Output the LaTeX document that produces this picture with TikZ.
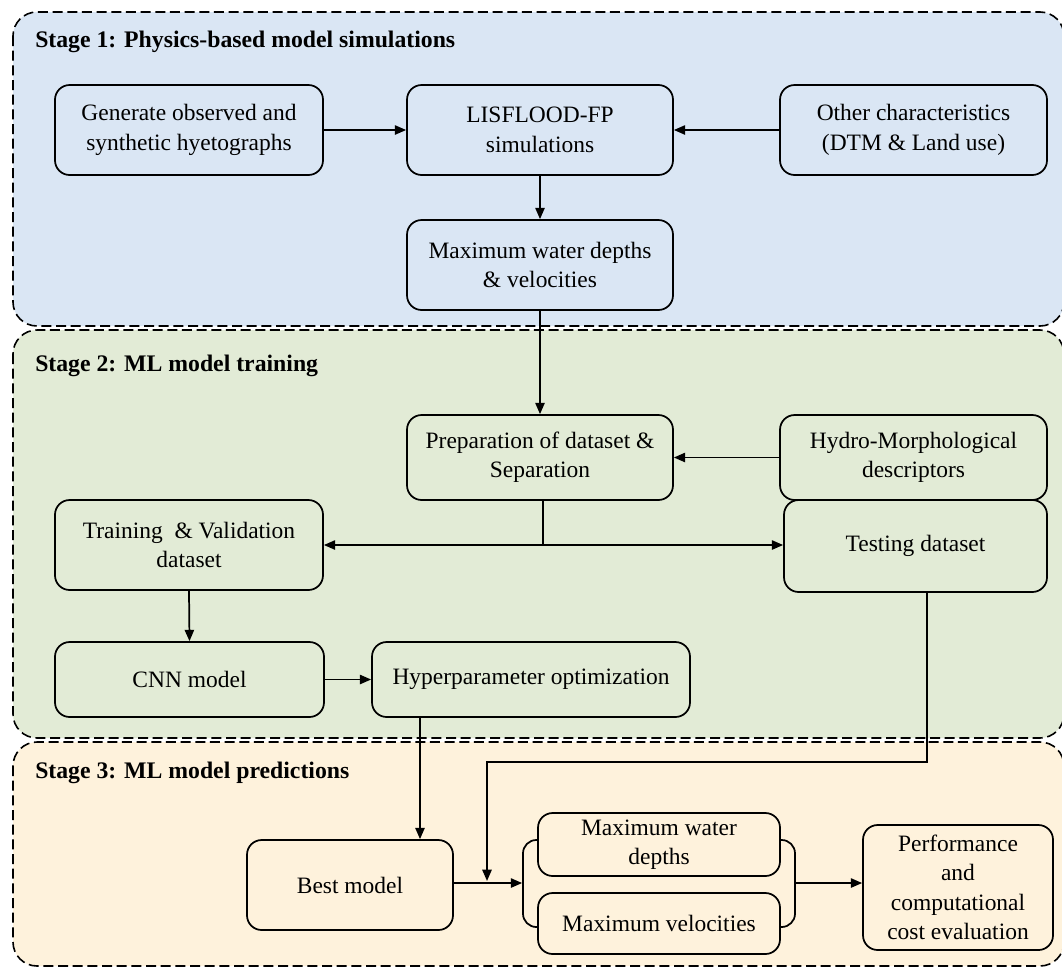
\documentclass[tikz,border=0pt]{standalone}
\usepackage{fontspec}
\setmainfont{Liberation Serif}
\usetikzlibrary{arrows.meta}
\definecolor{sOne}{HTML}{DAE6F4}
\definecolor{sTwo}{HTML}{E2EBD6}
\definecolor{sThree}{HTML}{FEF2DC}
\newcommand{\boxfont}{\fontsize{17.6pt}{22pt}\selectfont}
\newcommand{\headfont}{\fontsize{17.8pt}{22pt}\selectfont\bfseries}
\tikzset{
  stagebox/.style={draw=black, line width=1.2pt, dash pattern=on 7.5pt off 3.5pt, rounded corners=18pt},
  box/.style={draw=black, line width=1.3pt, rounded corners=11pt, align=center, inner sep=0pt, font=\boxfont},
  heading/.style={anchor=base west, inner sep=0pt, font=\headfont},
  conn/.style={draw=black, line width=1.3pt},
  arr/.style={conn, -{Triangle[length=8.5pt,width=7pt]}}
}
\begin{document}
\begin{tikzpicture}[x=0.75pt,y=-0.75pt]
\useasboundingbox (0,0) rectangle (1062,968);
\clip (0,0) rectangle (1062,968);
% stage backgrounds
\draw[stagebox, fill=sOne] (13,12) rectangle (1064,326);
\draw[stagebox, fill=sTwo] (13,330) rectangle (1064,738);
\draw[stagebox, fill=sThree] (13,742) rectangle (1064,966);
\node[heading] (h1) at (35,47) {Stage 1: Physics-based model simulations};
\node[heading] (h2) at (35,371) {Stage 2: ML model training};
\node[heading] (h3) at (35,778) {Stage 3: ML model predictions};
% stage 1
\node[box, fill=sOne, minimum width=201pt, minimum height=67.5pt] (gen) at (189,130) {Generate observed and\\synthetic hyetographs};
\node[box, fill=sOne, minimum width=199.5pt, minimum height=67.5pt] (lis) at (540,130) {LISFLOOD-FP\\simulations};
\node[box, fill=sOne, minimum width=200.25pt, minimum height=67.5pt] (oth) at (913.5,130) {Other characteristics\\(DTM \& Land use)};
\node[box, fill=sOne, minimum width=199.5pt, minimum height=67.5pt] (max) at (540,265) {Maximum water depths\\\& velocities};
% stage 2
\node[box, fill=sTwo, minimum width=199.5pt, minimum height=63.75pt] (prep) at (540,457.5) {Preparation of dataset \&\\Separation};
\node[box, fill=sTwo, minimum width=200.25pt, minimum height=63.75pt] (hyd) at (913.5,457.5) {Hydro-Morphological\\descriptors};
\node[box, fill=sTwo, minimum width=201pt, minimum height=67.5pt] (trn) at (189,545) {Training \ \& Validation\\dataset};
\node[box, fill=sTwo, minimum width=197.25pt, minimum height=69pt] (tst) at (915.5,546) {Testing dataset};
\node[box, fill=sTwo, minimum width=201.75pt, minimum height=56.25pt] (cnn) at (189.5,679.5) {CNN model};
\node[box, fill=sTwo, minimum width=238.5pt, minimum height=56.25pt] (hyp) at (531,679.5) {Hyperparameter optimization};
% stage 3
\node[box, fill=sThree, minimum width=154.5pt, minimum height=67.5pt] (bst) at (350,885) {Best model};
\node[box, rounded corners=10pt, minimum width=204pt, minimum height=65.25pt] (brk) at (659,883.5) {};
\node[box, fill=sThree, minimum width=181.5pt, minimum height=47.25pt] (dep) at (659,844.5) {Maximum water\\depths};
\node[box, fill=sThree, minimum width=181.5pt, minimum height=45.75pt] (vel) at (659,923.5) {Maximum velocities};
\node[box, fill=sThree, minimum width=142.5pt, minimum height=93.75pt] (prf) at (958,887.5) {Performance\\and\\computational\\cost evaluation};
% connectors
\coordinate (j1) at (543,545);
\coordinate (t1) at (927,762);
\coordinate (t2) at (487,762);
\coordinate (t3) at (487,881);
\draw[arr] (gen.east) -- (lis.west);
\draw[arr] (oth.west) -- (lis.east);
\draw[arr] (lis.south) -- (max.north);
\draw[arr] (max.south) -- (prep.north);
\draw[arr] (hyd.west) -- (prep.east);
\draw[conn] (prep.south -| j1) -- (j1);
\draw[arr] (j1) -- (trn.east |- j1);
\draw[arr] (j1) -- (tst.west |- j1);
\draw[arr] (trn.south) -- (cnn.north);
\draw[arr] (cnn.east) -- (hyp.west);
\draw[arr] (hyp.south -| 420,0) -- (bst.north -| 420,0);
\draw[arr] (tst.south -| t1) -- (t1) -- (t2) -- (t3);
\draw[arr] (bst.east |- 0,883) -- (brk.west |- 0,883);
\draw[arr] (brk.east |- 0,883) -- (prf.west |- 0,883);
\end{tikzpicture}
\end{document}
